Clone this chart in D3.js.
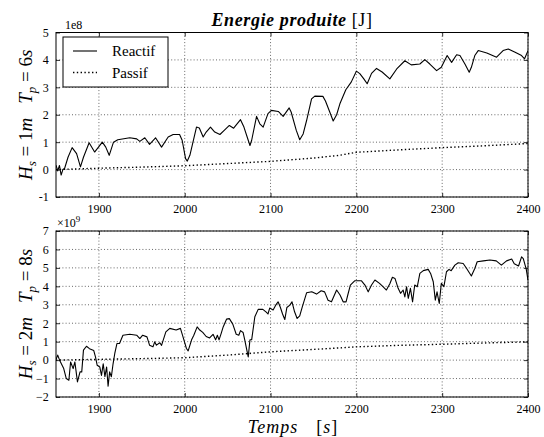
<!DOCTYPE html>
<html>
<head>
<meta charset="utf-8">
<script src="https://cdn.jsdelivr.net/npm/d3@7"></script>
<style>
  html, body { margin: 0; padding: 0; background: #fff; }
  svg { display: block; }
  text { font-family: "Liberation Serif", "DejaVu Serif", "Noto Serif", "Tinos", "Times New Roman", Times, serif; fill: #000; }
</style>
</head>
<body>
<svg id="chart" width="544" height="437"></svg>
<script>
// ---- data (top panel values in units of 1e8 J, bottom panel in units of 1e9 J) ----
const xTicks = [1900, 2000, 2100, 2200, 2300, 2400];
const yTicksTop = [-1, 0, 1, 2, 3, 4, 5];
const yTickLabelsTop = ["-1", "0", "1", "2", "3", "4", "5"];
const yTicksBottom = [-2, -1, 0, 1, 2, 3, 4, 5, 6, 7];
const yTickLabelsBottom = ["\u22122", "\u22121", "0", "1", "2", "3", "4", "5", "6", "7"];
const seriesNames = ["Reactif", "Passif"];

const timeTop = [1850, 1852, 1854, 1856, 1858, 1860, 1864, 1868.8, 1874, 1878.5, 1882, 1888.6, 1895, 1904, 1908,
  1912, 1917, 1922, 1936, 1944, 1947.7, 1953.5, 1959, 1966, 1973, 1980.7, 1986.5, 1994, 1997, 2001, 2003, 2006,
  2013.7, 2017, 2021.5, 2025, 2030, 2035, 2041, 2046, 2052, 2057, 2065, 2069, 2074, 2076, 2078, 2083.7, 2087.5,
  2091.4, 2097, 2101, 2109, 2114.7, 2121.7, 2124, 2130, 2134, 2138, 2142, 2147.8, 2151.6, 2161, 2164, 2169, 2173,
  2177, 2180.8, 2187.7, 2194, 2200, 2204, 2208.7, 2212.6, 2217.7, 2223.5, 2230, 2239, 2247, 2256.5, 2264, 2274,
  2279.8, 2285.6, 2293.5, 2299, 2305.8, 2311, 2316.8, 2320.7, 2326.5, 2331.5, 2334, 2338, 2342, 2352, 2363.4,
  2371, 2377, 2385, 2392.5, 2396, 2400];
const reactifTop = [0.16, -0.05, 0.15, -0.2, 0.0, 0.04, 0.45, 0.8, 0.58, 0.1, 0.45, 0.98, 0.64, 1.0, 0.82,
  0.52, 1.0, 1.09, 1.16, 1.12, 1.03, 1.16, 0.92, 1.16, 0.82, 1.19, 1.28, 1.28, 1.07, 0.4, 0.31, 0.52,
  1.55, 1.52, 1.19, 1.37, 1.55, 1.37, 1.28, 1.43, 1.61, 1.51, 1.82, 1.55, 1.07, 0.88, 1.07, 1.94, 1.67,
  1.55, 2.04, 2.16, 2.12, 1.94, 2.25, 2.1, 1.43, 1.09, 1.3, 1.79, 2.58, 2.68, 2.67, 2.5, 2.1, 1.77,
  2.0, 2.4, 2.91, 3.19, 3.59, 3.5, 3.31, 3.13, 3.51, 3.69, 3.56, 3.31, 3.67, 3.97, 3.82, 3.85,
  4.01, 3.85, 3.61, 3.73, 4.16, 3.91, 4.19, 4.16, 3.85, 3.55, 3.73, 4.16, 4.34, 4.25, 4.1,
  4.34, 4.4, 4.28, 4.16, 4.04, 4.34];

const timeBottom = [1850, 1852, 1854.5, 1859, 1862, 1865, 1867, 1870, 1872, 1875, 1878, 1880, 1882, 1885.5, 1889,
  1894, 1896, 1898, 1901, 1903, 1905, 1907, 1909, 1910.7, 1912.5, 1914.5, 1916.5, 1918.5, 1921, 1924, 1928, 1936,
  1944, 1947.7, 1951, 1956, 1959, 1963, 1965, 1967, 1971, 1973, 1978, 1982.6, 1990, 1995, 1998, 2002, 2004, 2008,
  2010.6, 2014.5, 2017.5, 2021, 2025, 2029, 2033, 2036, 2038, 2040, 2042.5, 2044.8, 2048.7, 2052, 2056, 2060,
  2063, 2065, 2068, 2070, 2072, 2074, 2076, 2078, 2081.7, 2085.6, 2091, 2095, 2097, 2099, 2103, 2106, 2108.8,
  2111.5, 2114, 2116.6, 2119, 2122.5, 2125, 2128, 2131, 2134, 2137, 2142, 2148, 2153.6, 2159, 2163, 2167, 2171,
  2177, 2181, 2184.6, 2188, 2190, 2193, 2198, 2206, 2210, 2213.8, 2217.7, 2221.6, 2227, 2231, 2235, 2239, 2242,
  2245, 2248.7, 2251.5, 2254.5, 2256.5, 2258.5, 2260.5, 2263, 2265.5, 2268, 2271, 2274, 2278, 2283.7, 2286.5,
  2289.6, 2292, 2294, 2296.6, 2299, 2302, 2305, 2308, 2310.5, 2314.8, 2318.7, 2324.5, 2328.5, 2334, 2338, 2340.8,
  2348, 2355.6, 2363, 2369, 2375, 2381, 2384, 2389, 2392.5, 2394.5, 2398, 2400];
const reactifBottom = [0.03, 0.27, -0.04, -0.46, -1.0, -1.09, -0.1, -0.46, -0.1, -1.18, -0.64, -0.64, 0.54, 0.75, 0.62,
  0.52, 0.17, -0.28, -0.37, -0.83, -0.2, -0.9, -0.37, -1.42, -0.64, -0.9, -0.2, 0.36, 0.9, 0.9, 1.35, 1.4,
  1.35, 1.17, 1.35, 1.26, 0.81, 0.72, 0.99, 0.81, 0.94, 0.8, 1.53, 1.72, 1.63, 1.72, 1.26, 0.63, 0.5, 1.1,
  1.35, 1.8, 1.63, 1.5, 1.28, 1.2, 1.4, 1.1, 1.35, 1.1, 1.45, 1.8, 2.22, 2.25, 1.95, 1.4,
  1.35, 1.6, 1.5, 1.08, 0.62, 0.17, 1.1, 1.1, 2.35, 2.75, 2.75, 2.6, 2.5, 2.82, 2.72, 2.98, 3.16,
  2.85, 2.5, 2.2, 2.85, 2.98, 3.16, 2.62, 2.26, 2.4, 2.89, 3.65, 3.71, 3.58, 3.76, 3.7, 3.25, 3.16,
  3.8, 3.53, 3.16, 3.16, 3.53, 4.07, 4.3, 4.3, 4.07, 3.7, 4.07, 4.34, 4.16, 3.98, 3.8, 4.14, 4.49,
  4.43, 3.89, 3.62, 3.8, 3.43, 3.98, 3.35, 3.89, 3.16, 4.07, 3.98, 4.7, 4.85, 4.92, 4.7,
  4.25, 3.25, 3.7, 3.07, 4.16, 3.98, 4.79, 4.92, 4.85, 5.15, 5.28, 5.24, 4.97, 4.56, 4.97, 5.33,
  5.38, 5.43, 5.38, 5.15, 5.38, 5.48, 5.22, 5.1, 5.6, 5.5, 4.92, 4.34];

const passifTime = [1850, 1900, 1950, 2000, 2050, 2100, 2150, 2180, 2200, 2250, 2300, 2350, 2400];
const passifTop = [0.0, 0.05, 0.09, 0.14, 0.22, 0.3, 0.42, 0.52, 0.63, 0.72, 0.8, 0.87, 0.95];
const passifBottom = [0.0, 0.04, 0.08, 0.13, 0.27, 0.45, 0.58, 0.66, 0.72, 0.8, 0.86, 0.93, 0.99];

// ---- layout ----
const svg = d3.select("#chart");
const plotLeft = 56, plotRight = 528;
const panels = [
  { top: 32.5, bottom: 197, domain: [-1, 5], ticks: yTicksTop, labels: yTickLabelsTop,
    time: timeTop, reactif: reactifTop, passif: passifTop, label: ["1m", "6s"], legend: true },
  { top: 231, bottom: 397, domain: [-2, 7], ticks: yTicksBottom, labels: yTickLabelsBottom,
    time: timeBottom, reactif: reactifBottom, passif: passifBottom, label: ["2m", "8s"], legend: false }
];

const x = d3.scaleLinear().domain([1850, 2400]).range([plotLeft, plotRight]);

panels.forEach((p, idx) => {
  const y = d3.scaleLinear().domain(p.domain).range([p.bottom, p.top]);
  const g = svg.append("g");

  // dotted grid
  const grid = g.append("g").attr("stroke", "#000").attr("stroke-width", 0.6)
    .attr("stroke-dasharray", "1,2.2");
  xTicks.forEach(t => grid.append("line").attr("x1", x(t)).attr("x2", x(t))
    .attr("y1", p.top).attr("y2", p.bottom));
  p.ticks.forEach(v => grid.append("line").attr("x1", plotLeft).attr("x2", plotRight)
    .attr("y1", y(v)).attr("y2", y(v)));

  // series
  const line = d3.line().x(d => x(d[0])).y(d => y(d[1]));
  const clipId = "clip" + idx;
  svg.append("clipPath").attr("id", clipId).append("rect")
    .attr("x", plotLeft).attr("y", p.top).attr("width", plotRight - plotLeft).attr("height", p.bottom - p.top);
  g.append("path").datum(passifTime.map((t, i) => [t, p.passif[i]]))
    .attr("d", line).attr("fill", "none").attr("stroke", "#000").attr("stroke-width", 1.4)
    .attr("stroke-dasharray", "1.4,2.4").attr("clip-path", `url(#${clipId})`);
  g.append("path").datum(p.time.map((t, i) => [t, p.reactif[i]]))
    .attr("d", line).attr("fill", "none").attr("stroke", "#000").attr("stroke-width", 1.1)
    .attr("stroke-linejoin", "round").attr("clip-path", `url(#${clipId})`);

  // axes with inward ticks on all four sides
  const fmt = (v) => p.labels[p.ticks.indexOf(v)];
  const ax = (gen) => gen.tickSizeInner(-4).tickSizeOuter(0).tickPadding(6);
  const bottomAx = g.append("g").attr("transform", `translate(0,${p.bottom})`)
    .call(ax(d3.axisBottom(x).tickValues(xTicks).tickFormat(d3.format("d"))));
  g.append("g").attr("transform", `translate(0,${p.top})`)
    .call(ax(d3.axisTop(x).tickValues(xTicks).tickFormat("")));
  const leftAx = g.append("g").attr("transform", `translate(${plotLeft},0)`)
    .call(ax(d3.axisLeft(y).tickValues(p.ticks).tickFormat(fmt)));
  g.append("g").attr("transform", `translate(${plotRight},0)`)
    .call(ax(d3.axisRight(y).tickValues(p.ticks).tickFormat("")));
  g.selectAll(".domain").remove();
  g.selectAll(".tick line").attr("stroke", "#000").attr("stroke-width", 0.8);
  g.selectAll(".tick text").attr("font-size", 12).attr("fill", "#000");
  bottomAx.selectAll(".tick text").attr("dy", "0.85em");
  leftAx.selectAll(".tick text").attr("dx", "-0.1em");

  // frame
  g.append("rect").attr("x", plotLeft).attr("y", p.top)
    .attr("width", plotRight - plotLeft).attr("height", p.bottom - p.top)
    .attr("fill", "none").attr("stroke", "#000").attr("stroke-width", 1);

  // y label: H_s = ..   T_p = ..
  const cy = (p.top + p.bottom) / 2;
  const lab = svg.append("text").attr("transform", `translate(32,${cy}) rotate(-90)`)
    .attr("text-anchor", "middle").attr("font-size", 19);
  lab.append("tspan").attr("font-style", "italic").text("H");
  lab.append("tspan").attr("font-style", "italic").attr("font-size", 13).attr("dy", 4).text("s");
  lab.append("tspan").attr("dy", -4).text(" = " + p.label[0].slice(0, 1));
  lab.append("tspan").attr("font-style", "italic").text(p.label[0].slice(1));
  lab.append("tspan").attr("font-style", "italic").attr("dx", 14).text("T");
  lab.append("tspan").attr("font-style", "italic").attr("font-size", 13).attr("dy", 4).text("p");
  lab.append("tspan").attr("dy", -4).text(" = " + p.label[1].slice(0, 1));
  lab.append("tspan").attr("font-style", "italic").text(p.label[1].slice(1));

  // legend
  if (p.legend) {
    const lg = svg.append("g");
    lg.append("rect").attr("x", 63).attr("y", 37).attr("width", 105).attr("height", 50)
      .attr("fill", "#fff").attr("stroke", "#000").attr("stroke-width", 1);
    lg.append("line").attr("x1", 73).attr("x2", 97).attr("y1", 51).attr("y2", 51)
      .attr("stroke", "#000").attr("stroke-width", 1.1);
    lg.append("line").attr("x1", 73).attr("x2", 97).attr("y1", 72.5).attr("y2", 72.5)
      .attr("stroke", "#000").attr("stroke-width", 1.4).attr("stroke-dasharray", "1.4,2.4");
    lg.append("text").attr("x", 112).attr("y", 56).attr("font-size", 15).text(seriesNames[0]);
    lg.append("text").attr("x", 112).attr("y", 78).attr("font-size", 15).text(seriesNames[1]);
  }
});

// offset / multiplier texts
svg.append("text").attr("x", 65).attr("y", 29).attr("font-size", 12).text("1e8");
const mult = svg.append("text").attr("x", 57).attr("y", 227).attr("font-size", 12);
mult.append("tspan").text("\u00d710");
mult.append("tspan").attr("font-size", 9).attr("dy", -5).text("9");

// title
const title = svg.append("text").attr("x", 292).attr("y", 26).attr("text-anchor", "middle")
  .attr("font-size", 18).attr("letter-spacing", 0.6);
title.append("tspan").attr("font-style", "italic").attr("font-weight", "bold").text("Energie produite ");
title.append("tspan").text("[J]");

// x label
const xl = svg.append("text").attr("x", 293).attr("y", 433).attr("text-anchor", "middle")
  .attr("font-size", 18).attr("letter-spacing", 1);
xl.append("tspan").attr("font-style", "italic").text("Temps");
xl.append("tspan").attr("dx", 18).text("[");
xl.append("tspan").attr("font-style", "italic").text("s");
xl.append("tspan").text("]");
</script>
</body>
</html>
